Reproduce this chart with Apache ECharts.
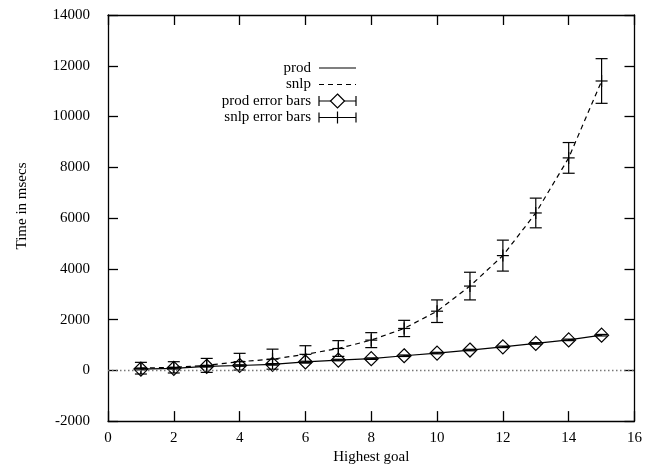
<!DOCTYPE html>
<html>
<head>
<meta charset="utf-8">
<script src="https://cdn.jsdelivr.net/npm/echarts@6/dist/echarts.min.js"></script>
<style>html,body{margin:0;padding:0;background:#fff}#c{width:645px;height:470px}</style>
</head>
<body>
<div id="c"></div>
<script>
var goals = [1,2,3,4,5,6,7,8,9,10,11,12,13,14,15];
var prodTime = [50,80,160,190,235,330,405,460,575,680,800,925,1060,1200,1385];
var prodErr = [30,30,30,30,30,30,30,30,30,30,30,30,30,30,30];
var snlpTime = [85,118,195,340,440,630,860,1190,1650,2330,3320,4520,6200,8370,11400];
var snlpErr = [230,222,275,330,395,340,310,295,320,445,545,610,585,605,880];
var legendLabels = ['prod','snlp','prod error bars','snlp error bars'];
var xTicks = {min:0,max:16,interval:2};
var yTicks = {min:-2000,max:14000,interval:2000};

var FONT = '"Liberation Serif","DejaVu Serif",serif';
var chart = echarts.init(document.getElementById('c'), null, {renderer:'canvas'});

function errData(xs, ys, es){ return xs.map(function(x,i){ return [x, ys[i], es[i]]; }); }

function makeErrRender(kind){
  return function(params, api){
    var x = api.value(0), y = api.value(1), e = api.value(2);
    var c = api.coord([x,y]), hi = api.coord([x,y+e]), lo = api.coord([x,y-e]);
    var cap = 6, st = {stroke:'#000', lineWidth:1.2, fill:null};
    var ch = [
      {type:'line', shape:{x1:c[0],y1:hi[1],x2:c[0],y2:lo[1]}, style:st},
      {type:'line', shape:{x1:c[0]-cap,y1:hi[1],x2:c[0]+cap,y2:hi[1]}, style:st},
      {type:'line', shape:{x1:c[0]-cap,y1:lo[1],x2:c[0]+cap,y2:lo[1]}, style:st}
    ];
    if (kind === 'diamond'){
      ch.push({type:'polygon', shape:{points:[[c[0],c[1]-7],[c[0]+7,c[1]],[c[0],c[1]+7],[c[0]-7,c[1]]]}, style:{stroke:'#000',lineWidth:1.2,fill:'rgba(0,0,0,0)'}});
    } else {
      ch.push({type:'line', shape:{x1:c[0]-6,y1:c[1],x2:c[0]+6,y2:c[1]}, style:st});
      ch.push({type:'line', shape:{x1:c[0],y1:c[1]-6,x2:c[0],y2:c[1]+6}, style:st});
    }
    return {type:'group', children:ch};
  };
}

var lgX = 311, lgY0 = 68, lgDy = 16.5, s1 = 319, s2 = 356;
var g = [];
legendLabels.forEach(function(t,i){
  var y = lgY0 + i*lgDy;
  g.push({type:'text', x:lgX, y:y, style:{text:t, font:'15px '+FONT, fill:'#000', textAlign:'right', textVerticalAlign:'middle'}});
  var st = {stroke:'#000', lineWidth:1.2};
  if (i===0) g.push({type:'line', shape:{x1:s1,y1:y,x2:s2,y2:y}, style:st});
  if (i===1) g.push({type:'line', shape:{x1:s1,y1:y,x2:s2,y2:y}, style:{stroke:'#000',lineWidth:1.2,lineDash:[5,4]}});
  if (i>=2){
    g.push({type:'line', shape:{x1:s1,y1:y,x2:s2,y2:y}, style:st});
    g.push({type:'line', shape:{x1:s1,y1:y-5,x2:s1,y2:y+5}, style:st});
    g.push({type:'line', shape:{x1:s2,y1:y-5,x2:s2,y2:y+5}, style:st});
    var m = (s1+s2)/2;
    if (i===2) g.push({type:'polygon', shape:{points:[[m,y-7],[m+7,y],[m,y+7],[m-7,y]]}, style:{stroke:'#000',lineWidth:1.2,fill:'#fff'}});
    else g.push({type:'line', shape:{x1:m,y1:y-6,x2:m,y2:y+6}, style:st});
  }
});
g.push({type:'text', x:22, y:206, rotation:Math.PI/2, style:{text:'Time in msecs', font:'15px '+FONT, fill:'#000', textAlign:'center', textVerticalAlign:'middle'}});

var axisLine = {show:true, onZero:false, lineStyle:{color:'#000', width:1.3}};
var tick = {show:true, inside:true, length:10, lineStyle:{color:'#000', width:1.3}};
var lbl = {color:'#000', fontFamily:FONT, fontSize:15, formatter:function(v){return String(v);}};

chart.setOption({
  animation:false,
  backgroundColor:'#fff',
  grid:{left:108, right:10, top:15, bottom:47, containLabel:false},
  graphic:g,
  xAxis:[
    {type:'value', position:'bottom', min:xTicks.min, max:xTicks.max, interval:xTicks.interval,
     axisLine:axisLine, axisTick:tick, splitLine:{show:false},
     axisLabel:Object.assign({margin:9}, lbl),
     name:'Highest goal', nameLocation:'middle', nameGap:28, nameTextStyle:{color:'#000',fontFamily:FONT,fontSize:15}},
    {type:'value', position:'top', min:xTicks.min, max:xTicks.max, interval:xTicks.interval,
     axisLine:axisLine, axisTick:tick, splitLine:{show:false}, axisLabel:{show:false}}
  ],
  yAxis:[
    {type:'value', position:'left', min:yTicks.min, max:yTicks.max, interval:yTicks.interval,
     axisLine:axisLine, axisTick:tick, splitLine:{show:false},
     axisLabel:Object.assign({margin:18}, lbl)},
    {type:'value', position:'right', min:yTicks.min, max:yTicks.max, interval:yTicks.interval,
     axisLine:axisLine, axisTick:tick, splitLine:{show:false}, axisLabel:{show:false}}
  ],
  series:[
    {name:'prod', type:'line', data:goals.map(function(x,i){return [x,prodTime[i]];}), showSymbol:false, symbol:'none',
     lineStyle:{color:'#000', width:1.2}, z:3,
     markLine:{silent:true, symbol:'none', label:{show:false}, lineStyle:{color:'#777', type:[1.5,2.5], width:1.4}, data:[{yAxis:0}]}},
    {name:'snlp', type:'line', data:goals.map(function(x,i){return [x,snlpTime[i]];}), showSymbol:false, symbol:'none',
     lineStyle:{color:'#000', width:1.2, type:[5,4]}, z:3},
    {name:'prod error bars', type:'custom', data:errData(goals, prodTime, prodErr), renderItem:makeErrRender('diamond'), z:4},
    {name:'snlp error bars', type:'custom', data:errData(goals, snlpTime, snlpErr), renderItem:makeErrRender('plus'), z:4}
  ]
});
</script>
</body>
</html>
